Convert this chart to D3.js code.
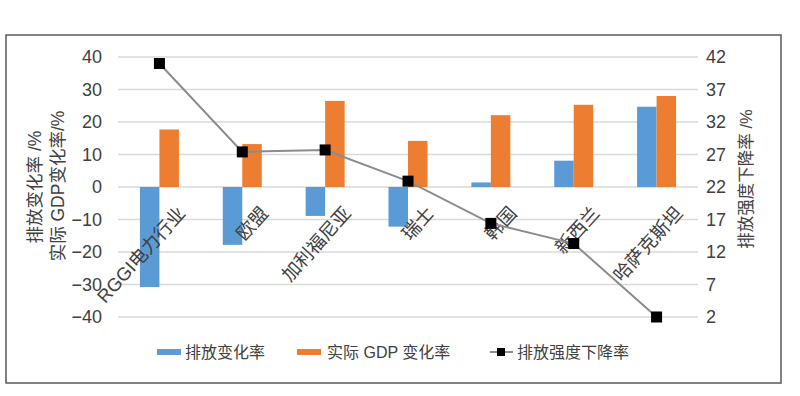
<!DOCTYPE html>
<html><head><meta charset="utf-8">
<script src="https://cdn.jsdelivr.net/npm/d3@7"></script>
<style>body{margin:0;background:#fff}svg{display:block}text{font-family:"Liberation Sans","Noto Sans CJK SC",sans-serif;fill:#404040}</style>
</head><body><svg id="c" width="800" height="396"></svg>
<script>
const categories = ["RGGI电力行业","欧盟","加利福尼亚","瑞士","韩国","新西兰","哈萨克斯坦"];
const emissionChange = [-30.8, -17.8, -8.9, -12.2, 1.4, 8.1, 24.7];
const gdpChange = [17.7, 13.2, 26.5, 14.2, 22.1, 25.3, 28.0];
const intensityDecline = [41.0, 27.4, 27.7, 22.9, 16.4, 13.3, 2.0];
const leftTicks = [-40,-30,-20,-10,0,10,20,30,40];
const rightTicks = [2,7,12,17,22,27,32,37,42];
const seriesNames = ["排放变化率","实际 GDP 变化率","排放强度下降率"];

const svg = d3.select("#c");
const L = 118, R = 698, T = 57, B = 317;
const x = d3.scaleBand().domain(categories).range([L, R]).padding(0);
const xs = d3.scaleBand().domain([0,1]).range([-19.5, 19.5]);
const yL = d3.scaleLinear().domain([-40, 40]).range([B, T]);
const yR = d3.scaleLinear().domain([2, 42]).range([B, T]);

// frame
svg.append("rect").attr("x",6).attr("y",35).attr("width",775).attr("height",348)
  .attr("fill","none").attr("stroke","#595959").attr("stroke-width",1.5);

// grid
svg.append("g").selectAll("line").data(leftTicks).join("line")
  .attr("x1",L).attr("x2",R).attr("y1",d=>yL(d)).attr("y2",d=>yL(d))
  .attr("stroke","#d9d9d9").attr("stroke-width",1.3);

// left axis
const axL = svg.append("g").attr("transform",`translate(${L},0)`)
  .call(d3.axisLeft(yL).tickValues(leftTicks).tickSize(0).tickPadding(16));
axL.select(".domain").remove();
axL.selectAll("text").style("font-size","18px").attr("fill","#404040");

// right axis
const axR = svg.append("g").attr("transform",`translate(${R},0)`)
  .call(d3.axisRight(yR).tickValues(rightTicks).tickSize(0).tickPadding(8));
axR.select(".domain").remove();
axR.selectAll("text").style("font-size","18px").attr("fill","#404040");

// bars
const g = svg.append("g");
categories.forEach((c,i)=>{
  const cx = x(c) + x.bandwidth()/2;
  [[emissionChange[i],"#5b9bd5"],[gdpChange[i],"#ed7d31"]].forEach(([v,col],k)=>{
    g.append("rect").attr("x",cx+xs(k)).attr("width",xs.bandwidth())
      .attr("y",Math.min(yL(v),yL(0))).attr("height",Math.abs(yL(v)-yL(0)))
      .attr("fill",col);
  });
});

// category labels
svg.append("g").selectAll("text").data(categories).join("text")
  .attr("transform",d=>`translate(${x(d)+x.bandwidth()/2+27},${yL(0)+27}) rotate(-48)`)
  .attr("text-anchor","end").style("font-size","18.5px").text(d=>d);

// line
const cxOf = (d,i)=> x(categories[i]) + x.bandwidth()/2;
svg.append("path").datum(intensityDecline)
  .attr("d", d3.line().x((d,i)=>cxOf(d,i)).y(d=>yR(d)))
  .attr("fill","none").attr("stroke","#8c8c8c").attr("stroke-width",2);
svg.append("g").selectAll("rect").data(intensityDecline).join("rect")
  .attr("x",(d,i)=>cxOf(d,i)-5.5).attr("y",d=>yR(d)-5.5)
  .attr("width",11).attr("height",11).attr("fill","#000");

// axis titles
svg.append("text").attr("transform","translate(41,187) rotate(-90)")
  .attr("text-anchor","middle").style("font-size","17.5px").text("排放变化率 /%");
svg.append("text").attr("transform","translate(64,186) rotate(-90)")
  .attr("text-anchor","middle").style("font-size","17.5px").text("实际 GDP变化率/%");
svg.append("text").attr("transform","translate(752,179) rotate(-90)")
  .attr("text-anchor","middle").style("font-size","16.5px").text(seriesNames[2]+" /%");

// legend
const lg = svg.append("g").style("font-size","16px");
lg.append("rect").attr("x",157).attr("y",349).attr("width",24).attr("height",6).attr("fill","#5b9bd5");
lg.append("text").attr("x",185).attr("y",358).text(seriesNames[0]);
lg.append("rect").attr("x",297).attr("y",349).attr("width",24).attr("height",6).attr("fill","#ed7d31");
lg.append("text").attr("x",327).attr("y",358).text(seriesNames[1]);
lg.append("line").attr("x1",490).attr("x2",513).attr("y1",352).attr("y2",352).attr("stroke","#8c8c8c").attr("stroke-width",2);
lg.append("rect").attr("x",497).attr("y",348).attr("width",8).attr("height",8).attr("fill","#000");
lg.append("text").attr("x",517).attr("y",358).text(seriesNames[2]);
</script></body></html>
